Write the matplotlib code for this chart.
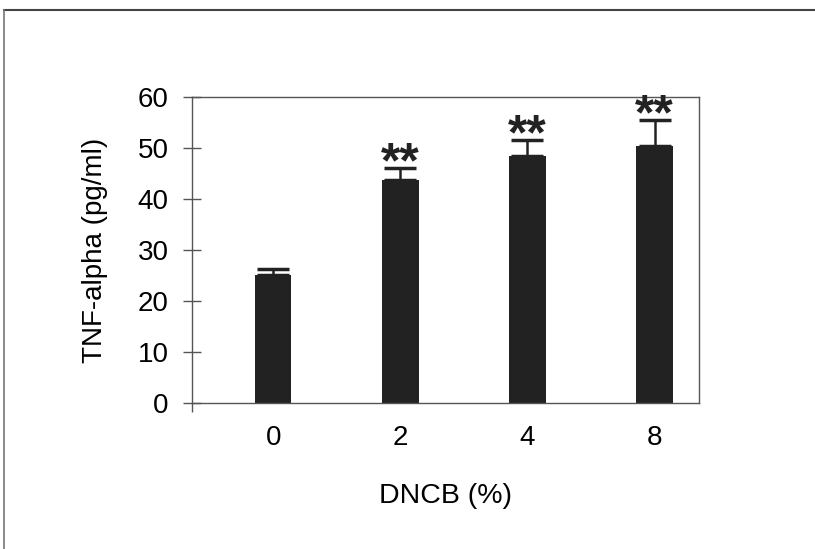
import numpy as np
import matplotlib
matplotlib.use('Agg')
import matplotlib.pyplot as plt
from matplotlib.lines import Line2D

plt.rcParams['font.family'] = ['Liberation Sans', 'DejaVu Sans']

# data
doses = ['0', '2', '4', '8']
tnf = [25.1, 43.7, 48.4, 50.3]
err = [1.2, 2.3, 3.1, 5.2]
marks = ['', '**', '**', '**']

fig = plt.figure(figsize=(8.15, 5.49), dpi=100)
ax = fig.add_axes([0.2356, 0.2659, 0.6221, 0.5574])

x = np.arange(len(doses))
ax.bar(x, tnf, width=0.285, color='#222222', zorder=2)
ax.errorbar(x, tnf, yerr=[np.zeros(len(err)), err], fmt='none', ecolor='#222222',
            elinewidth=1.8, capsize=11.5, capthick=2.5, zorder=3)

# significance stars above the caps
for xi, m, e in zip(x, tnf, err):
    lab = marks[xi]
    if lab:
        ax.annotate(lab, xy=(xi, m + e), xytext=(0, -6.5), textcoords='offset points',
                    ha='center', va='baseline', fontsize=36, fontweight='bold',
                    color='#222222')

ax.set_xlim(-0.64, 3.35)
ax.set_ylim(0, 60)
ax.set_yticks(np.arange(0, 61, 10))
ax.set_xticks(x)
ax.set_xticklabels(doses)
ax.set_xticks([-0.64], minor=True)

for s in ax.spines.values():
    s.set_color('#555555')
    s.set_linewidth(1.0)

ax.tick_params(axis='y', direction='inout', length=13.5, width=1.0, color='#555555',
               labelsize=20, pad=10)
ax.tick_params(axis='x', which='major', length=0, labelsize=20, pad=16)
ax.tick_params(axis='x', which='minor', direction='out', length=6.5, width=1.0,
               color='#555555')

fig.text(0.5466, 0.0838, 'DNCB (%)', ha='center', va='baseline', fontsize=20.5)
fig.text(102 / 815, 0.5446, 'TNF-alpha (pg/ml)', rotation=90, rotation_mode='anchor',
         ha='center', va='baseline', fontsize=20)

# scan border (top and left edges of the figure box)
fig.add_artist(Line2D([0.005, 1.0], [0.982, 0.982], color='#444444', lw=1.5))
fig.add_artist(Line2D([0.005, 0.005], [0.0, 0.982], color='#777777', lw=1.2))

fig.savefig('out.png', dpi=100)
